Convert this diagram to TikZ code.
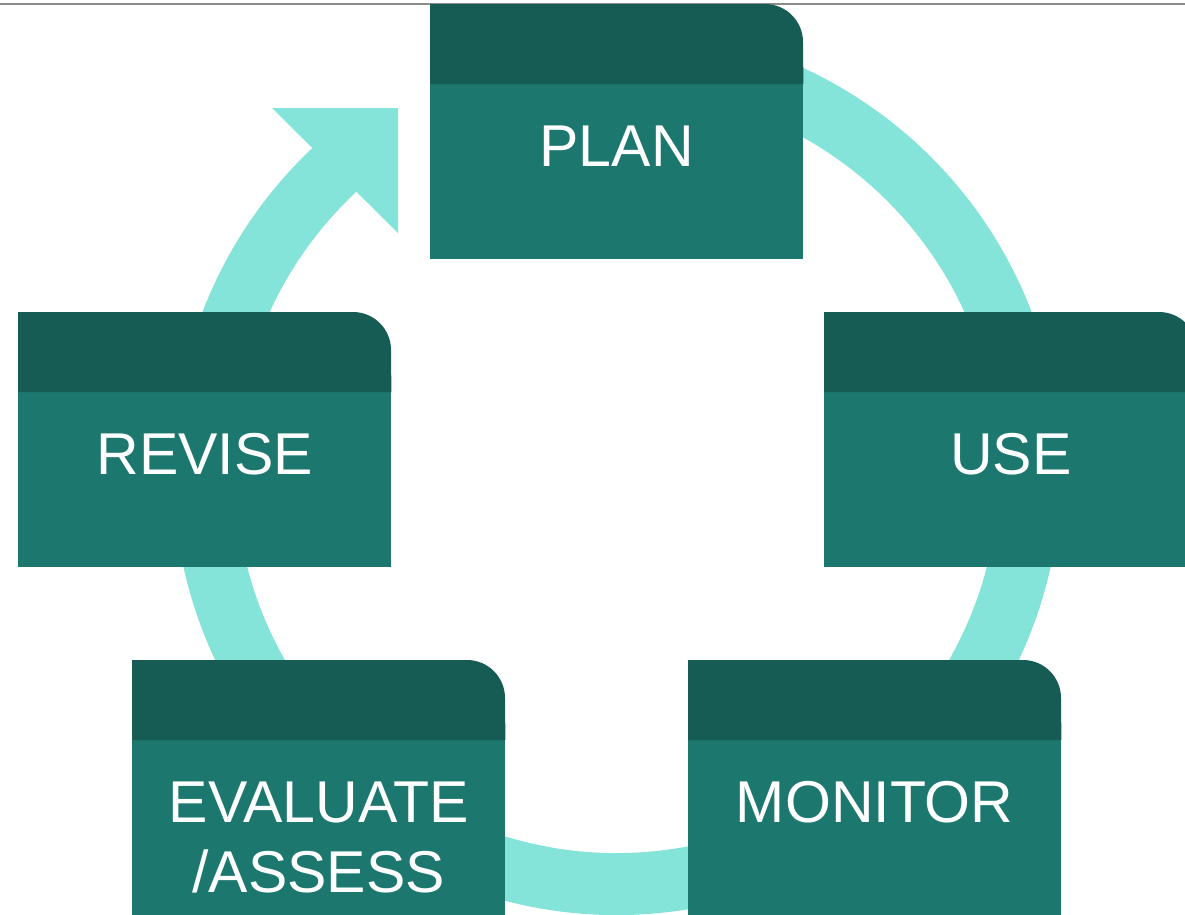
\documentclass[tikz,border=0pt]{standalone}
\usepackage{fontspec}
\setmainfont{Liberation Sans}
\definecolor{headteal}{HTML}{165B54}
\definecolor{bodyteal}{HTML}{1C786F}
\definecolor{ringteal}{HTML}{85E4D9}

\begin{document}
\begin{tikzpicture}[x=1pt, y=1pt,
		body/.style={fill=bodyteal, minimum width=373pt, minimum height=175pt, inner sep=0pt, anchor=north west},
		caption/.style={text=white, font=\fontsize{59}{70}\selectfont, align=center, anchor=base, inner sep=0pt}]
			\useasboundingbox (0,0) rectangle (1185,-914);
			\clip (0,0) rectangle (1185,-914);
			% rule along the top
			\draw[black!45, line width=1.7pt] (0,-4) -- (1185,-4);
			% ring with its arrow head
			\draw[ringteal, line width=62pt] (617,-471) ++(100:413pt) arc[start angle=100, end angle=-228, radius=413pt];
			\fill[ringteal] (272,-108) -- (398,-108) -- (398,-233) -- cycle;
			% stage boxes
			\node[body] (plan) at (430,-84) {};
			\node[body] (use) at (824,-392) {};
			\node[body] (monitor) at (688,-740) {};
			\node[body] (evaluate) at (132,-740) {};
			\node[body] (revise) at (18,-392) {};
			% dark tabs, round at the top right
			\foreach \s in {plan, use, monitor, evaluate, revise}
				\fill[headteal] (\s.north west) -- ++(0,80) -- ++(335,0)
				arc[start angle=90, end angle=0, radius=38pt] -- (\s.north east) -- cycle;
			% names of the stages (base sits on the last line)
			\node[caption] (plan-t) at ([yshift=-82pt]plan.north) {PLAN};
			\node[caption] (use-t) at ([yshift=-82pt]use.north) {USE};
			\node[caption] (monitor-t) at ([yshift=-82pt]monitor.north) {MONITOR};
			\node[caption] (evaluate-t) at ([yshift=-152pt]evaluate.north) {EVALUATE\\/ASSESS};
			\node[caption] (revise-t) at ([yshift=-82pt]revise.north) {REVISE};
		\end{tikzpicture}
\end{document}
